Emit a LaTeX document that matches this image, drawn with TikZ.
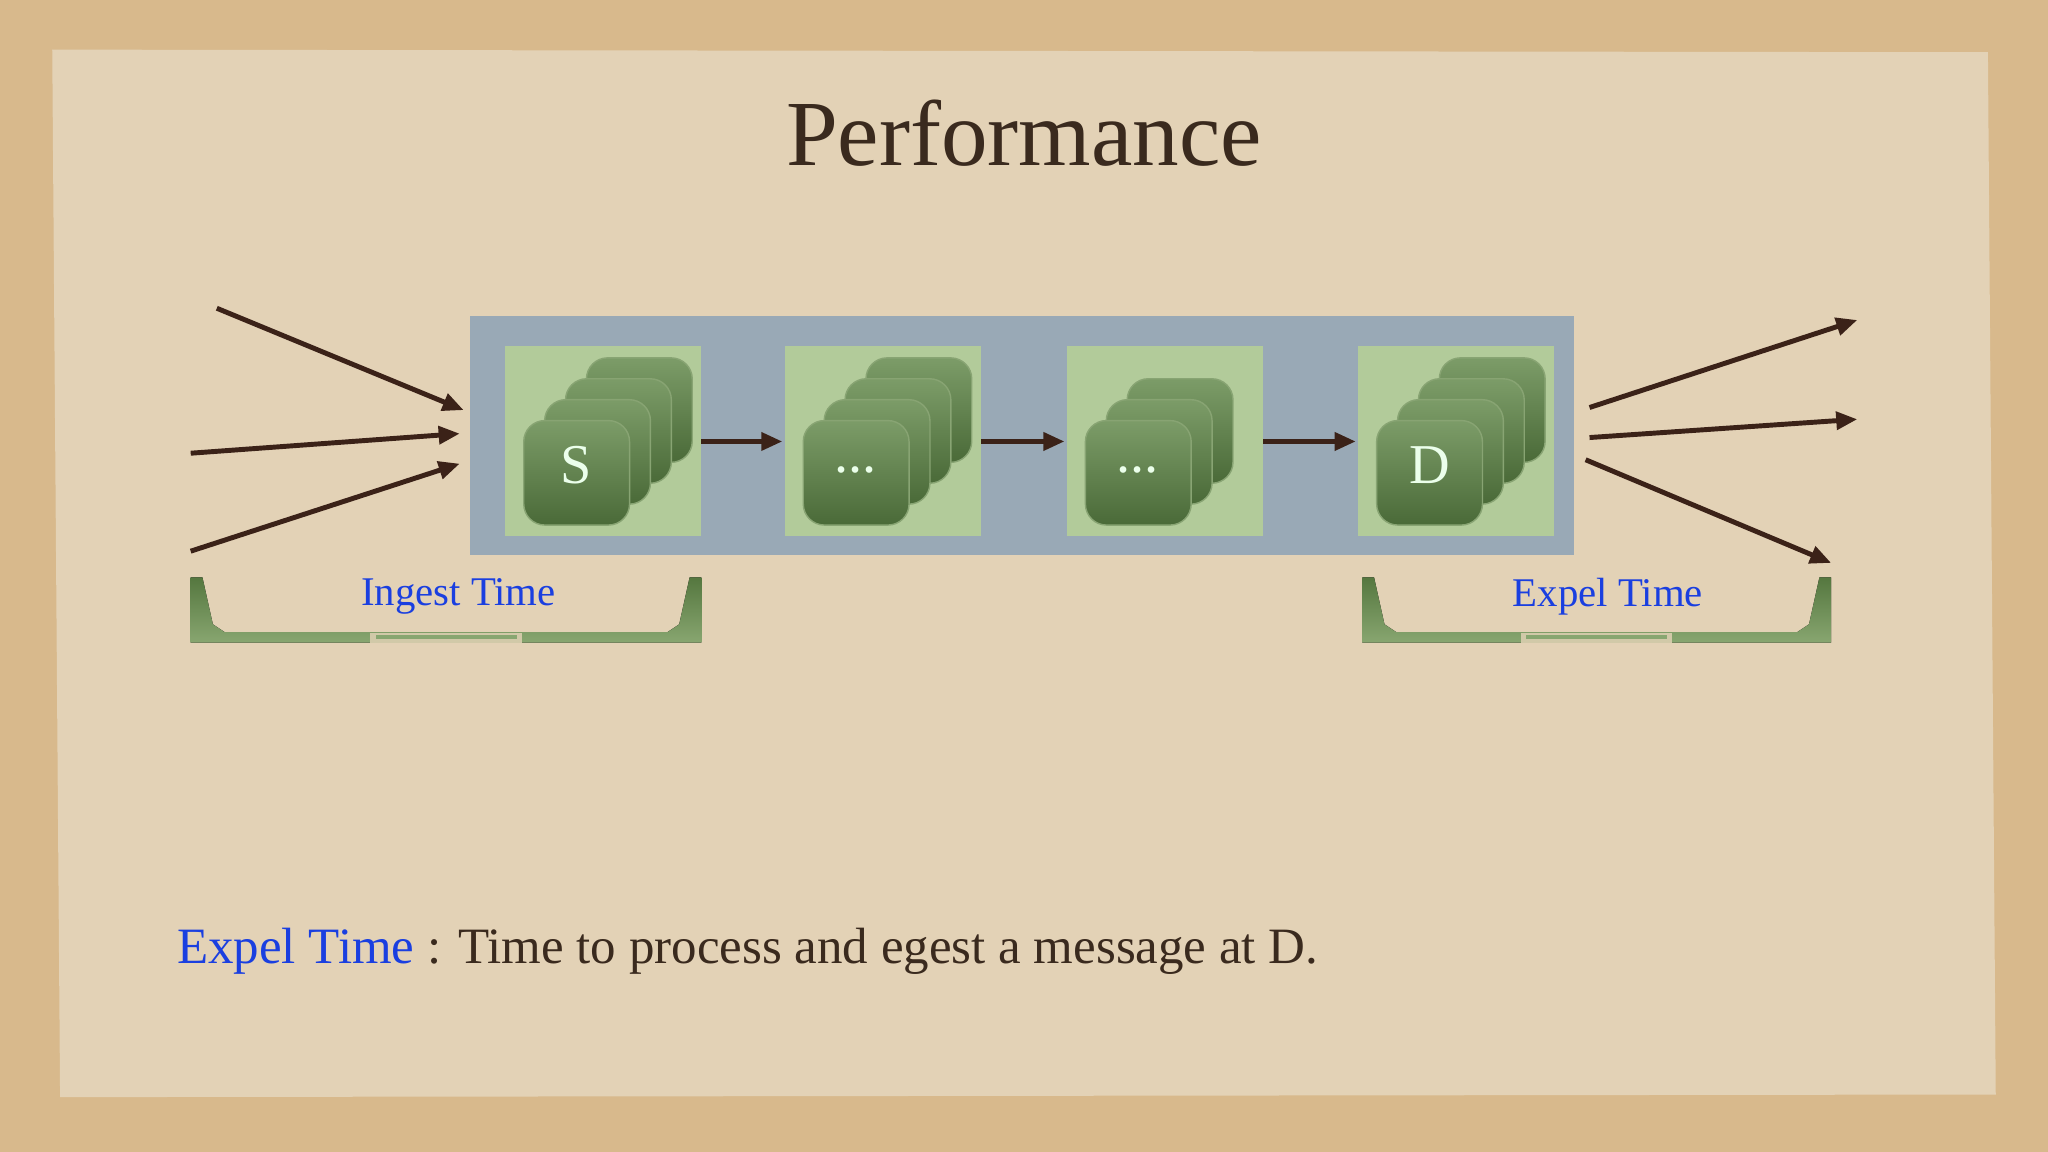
\documentclass[tikz,border=0pt]{standalone}
\usepackage{fontspec}
\setmainfont{Liberation Serif}
\usetikzlibrary{arrows.meta}
\definecolor{outer}{HTML}{D8B98C}
\definecolor{paper}{HTML}{E3D2B6}
\definecolor{titlec}{HTML}{3A2A1E}
\definecolor{arr}{HTML}{3B2218}
\definecolor{bluet}{HTML}{1A3FE0}
\definecolor{slate}{HTML}{99A9B6}
\definecolor{lgreen}{HTML}{B2CB9A}
\definecolor{sqtop}{HTML}{7C9C68}
\definecolor{sqbot}{HTML}{4A6A38}
\definecolor{brtop}{HTML}{55773F}
\definecolor{brbot}{HTML}{88A670}
\tikzset{
  conn/.style={draw=arr, line width=1.4pt, -{Triangle[length=6pt,width=5pt]}},
  sq/.style={top color=sqtop, bottom color=sqbot, draw=lgreen!60!sqbot, line width=0.4pt, rounded corners=6pt},
  lbl/.style={text=white!92!green, font=\fontsize{16}{18}\selectfont},
  btxt/.style={text=bluet, font=\fontsize{11.6}{14}\selectfont},
}
\newcommand{\stackbox}[3]{%
  \fill[lgreen] (#1,#2) rectangle ++(150,145);
  \foreach \k in {#3,...,1}{
    \pgfmathsetmacro{\ox}{#1+14+16*(\k-1)}
    \pgfmathsetmacro{\oy}{#2+57-16*(\k-1)}
    \path[sq] (\ox,\oy) rectangle ++(81,80);
  }
}
\begin{document}
\begin{tikzpicture}[x=0.0130612cm,y=-0.0130612cm]
\fill[outer] (0,0) rectangle (1568,882);
\fill[paper] (40,38) -- (1522,40) -- (1528,838) -- (46,840) -- cycle;
\node[text=titlec, font=\fontsize{26.5}{30}\selectfont] (title) at (784,102) {Performance};
\fill[slate] (360,242) rectangle (1205,425);
\stackbox{387}{265}{4}
\stackbox{601}{265}{4}
\stackbox{817}{265}{3}
\stackbox{1040}{265}{4}
\coordinate (b1) at (537,338); \coordinate (b2l) at (599,338);
\coordinate (b2) at (751,338); \coordinate (b3l) at (815,338);
\coordinate (b3) at (967,338); \coordinate (b4l) at (1038,338);
\node[lbl] (s) at (441,356) {S};
\node[lbl] (d1) at (655,360) {...};
\node[lbl] (d2) at (871,360) {...};
\node[lbl] (d) at (1095,356) {D};
\draw[conn] (b1) -- (b2l);
\draw[conn] (b2) -- (b3l);
\draw[conn] (b3) -- (b4l);
\coordinate (i1) at (166,236); \coordinate (i1e) at (355,314);
\coordinate (i2) at (146,347); \coordinate (i2e) at (352,332);
\coordinate (i3) at (146,422); \coordinate (i3e) at (352,355);
\draw[conn] (i1) -- (i1e); \draw[conn] (i2) -- (i2e); \draw[conn] (i3) -- (i3e);
\coordinate (o1) at (1217,312); \coordinate (o1e) at (1422,245);
\coordinate (o2) at (1217,335); \coordinate (o2e) at (1422,321);
\coordinate (o3) at (1214,352); \coordinate (o3e) at (1402,431);
\draw[conn] (o1) -- (o1e); \draw[conn] (o2) -- (o2e); \draw[conn] (o3) -- (o3e);
% brackets
\foreach \a/\b in {146/537,1043/1402}{
  \fill[top color=brtop, bottom color=brbot] (\a,442) -- (\a+9,442) -- (\a+17,478) -- (\a+26,484) -- (\b-26,484) -- (\b-17,478) -- (\b-9,442) -- (\b,442) -- (\b,492) -- (\a,492) -- cycle;
  \pgfmathsetmacro{\m}{(\a+\b)/2}
  \fill[paper!80!brbot] (\m-58,485) rectangle (\m+58,492);
  \fill[brbot] (\m-54,486) rectangle (\m+54,489);
}
\node[btxt] (ingest) at (351,457) {Ingest Time};
\node[btxt] (expel) at (1231,457) {Expel Time};
\node[anchor=base west, inner sep=0pt, font=\fontsize{14.5}{17}\selectfont, text=titlec] (note) at (135,738) {\textcolor{bluet}{Expel Time} : Time to process and egest a message at D.};
\end{tikzpicture}
\end{document}
